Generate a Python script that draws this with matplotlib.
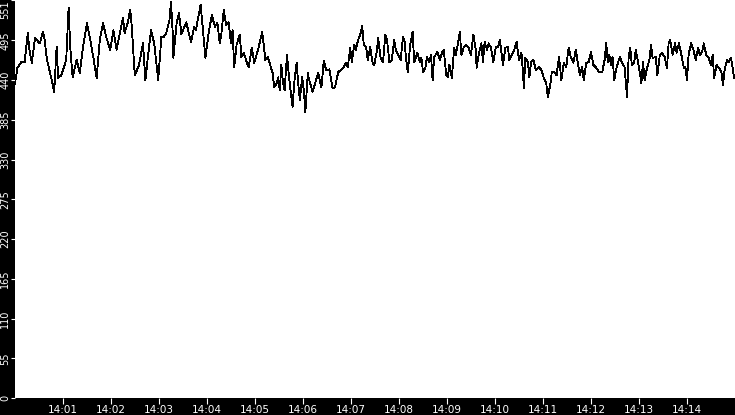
import matplotlib
matplotlib.use("Agg")
import matplotlib.pyplot as plt

# seconds after 14:00:00 and the sampled value
secs = [0, 3, 8, 12, 16, 18, 21, 25, 31, 35, 37, 40, 43, 46, 49, 52, 54, 58, 64, 67,
        69, 72, 77, 81, 85, 90, 94, 98, 102, 106, 110, 114, 119, 123, 127, 131, 135, 137, 141, 144,
        146, 149, 150, 155, 160, 163, 166, 170, 174, 179, 183, 186,
        189, 193, 195, 197, 198, 202, 205, 208, 214, 220, 224, 226, 232, 235, 238, 242, 246, 250,
        253, 256, 258, 261, 264, 267, 270, 272, 274, 277, 281, 283, 286, 290, 292, 296, 299, 304,
        309, 313, 316, 320, 322, 324, 327, 329, 331, 333, 335, 337, 340, 342, 344, 347, 349, 352,
        354, 356, 359, 361, 363, 366,
        367, 372, 379, 383, 386, 389, 393, 397, 400, 404, 410, 414, 416, 419, 421, 424, 426, 429,
        432, 434, 436, 439, 441, 444, 447, 449, 452, 454, 457, 460, 463, 465, 468, 471, 474, 476,
        479, 482, 485, 487, 489, 491, 494, 497, 499, 503, 506, 508, 510, 513, 515, 518, 520, 522,
        524, 528, 531, 534, 536, 539, 541, 543, 546, 549,
        551, 554, 556, 558, 561, 564, 567, 570, 573, 576, 577, 580, 583, 585, 587, 590, 592, 595,
        598, 601, 604, 606, 608, 610, 613, 616, 618, 621, 624, 627, 630, 633, 635, 636, 638, 641,
        643, 645, 648, 651, 655, 658, 661, 664, 666, 669, 671, 674, 677, 680, 683, 686, 689, 692,
        695, 698, 701, 704, 706, 709, 711, 714, 717, 720, 723, 726, 730,
        734, 737, 739, 741, 743, 745, 747, 749, 752, 756, 759, 762, 764, 765, 767, 769, 771, 774,
        776, 780, 783, 785, 787, 790, 793, 795, 797, 801, 803, 806, 809, 812, 815, 817, 819, 822,
        825, 827, 830, 833, 836, 838, 840, 842, 845, 848, 851, 854, 856, 859, 861, 864, 867, 870,
        872, 874, 877, 880, 883, 885, 887, 890, 892, 895, 897, 899]

vals = [435, 457, 465, 465, 505, 482, 464, 498, 491, 507, 496, 468, 454, 440, 424, 486, 443, 447, 468, 540,
        486, 444, 468, 450, 486, 519, 496, 471, 443, 496, 519, 500, 482, 509, 482, 505, 526, 505, 520, 538,
        514, 458, 447, 461, 491, 440, 471, 509, 491, 440, 500, 500,
        505, 523, 548, 509, 471, 519, 533, 504, 520, 493, 514, 509, 544, 509, 471, 505, 530, 514,
        519, 491, 505, 537, 516, 520, 491, 509, 458, 489, 503, 472, 478, 464, 458, 485, 464, 483,
        507, 468, 472, 457, 450, 430, 436, 444, 426, 461, 436, 426, 475, 450, 430, 403, 436, 464,
        436, 413, 444, 426, 396, 450,
        443, 424, 450, 430, 467, 454, 455, 429, 430, 451, 457, 464, 458, 485, 465, 489, 482, 496,
        505, 515, 489, 485, 468, 486, 464, 461, 478, 498, 471, 465, 503, 496, 465, 468, 496, 482,
        475, 468, 500, 493, 468, 451, 489, 507, 465, 478, 465, 471, 451, 457, 472, 465, 475, 440,
        472, 479, 468, 479, 482, 447, 444, 461, 443, 485,
        475, 493, 507, 475, 486, 489, 485, 475, 503, 482, 457, 478, 491, 465, 493, 482, 491, 485,
        465, 486, 486, 496, 478, 461, 485, 486, 468, 475, 482, 493, 468, 478, 451, 429, 471, 465,
        444, 465, 468, 454, 458, 454, 443, 436, 417, 433, 451, 451, 447, 472, 440, 464, 458, 485,
        471, 464, 482, 461, 447, 458, 440, 464, 465, 479, 461, 458, 451,
        451, 468, 491, 465, 475, 461, 472, 440, 458, 472, 464, 458, 430, 417, 471, 485, 461, 465,
        482, 457, 436, 465, 440, 457, 468, 489, 471, 472, 447, 475, 478, 472, 457, 491, 496, 475,
        491, 478, 491, 475, 457, 458, 440, 475, 491, 482, 468, 485, 475, 479, 491, 475, 471, 461,
        475, 443, 461, 457, 451, 433, 454, 468, 465, 471, 457, 443]

y_ticks = [0, 55, 110, 165, 220, 275, 330, 385, 440, 495, 551]
x_ticks = [60, 120, 180, 240, 300, 360, 420, 480, 540, 600, 660, 720, 780, 840]
x_labels = ['14:01', '14:02', '14:03', '14:04', '14:05', '14:06', '14:07',
            '14:08', '14:09', '14:10', '14:11', '14:12', '14:13', '14:14']

fig = plt.figure(figsize=(7.35, 4.15), dpi=100, facecolor='black')
ax = fig.add_axes([15 / 735, 17 / 415, 720 / 735, 398 / 415])
ax.set_facecolor('white')

ax.plot(secs, vals, color='black', linewidth=0.6, antialiased=False)

ax.set_xlim(0, 900)
ax.set_ylim(0, 551)
ax.set_xticks(x_ticks)
ax.set_xticklabels(x_labels)
ax.set_yticks(y_ticks)
ax.set_yticklabels([str(v) for v in y_ticks], rotation=90, va='center')
ax.get_yticklabels()[-1].set_va('top')

ax.tick_params(colors='white', width=0.8)
ax.tick_params(axis='x', labelsize=7.5, length=4, pad=1)
ax.tick_params(axis='y', labelsize=7, length=3, pad=0.5)
for s in ax.spines.values():
    s.set_visible(False)

fig.savefig('out.png', dpi=100, facecolor='black')
